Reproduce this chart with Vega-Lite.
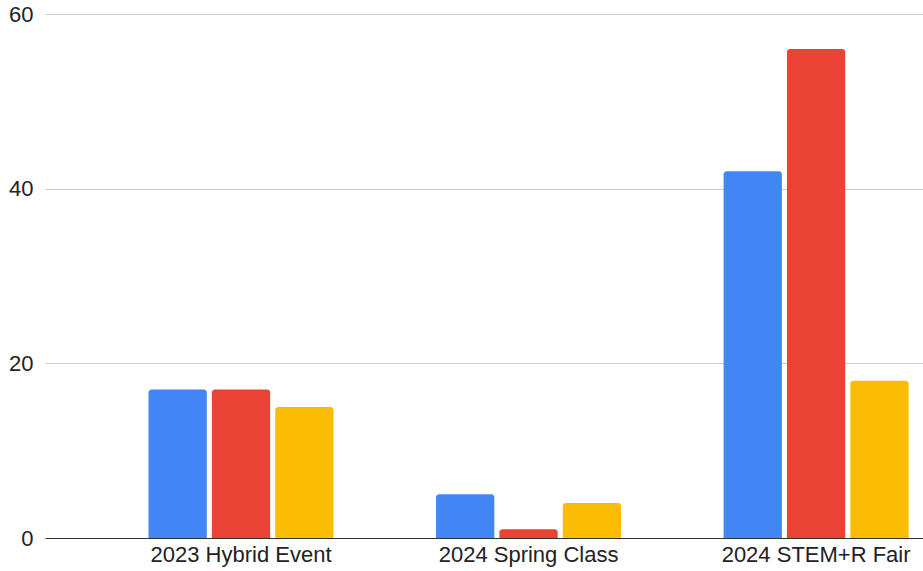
{
  "$schema": "https://vega.github.io/schema/vega-lite/v6.json",
  "width": 878,
  "height": 524,
  "autosize": {"type": "none"},
  "padding": {"left": 45, "top": 14, "right": 0, "bottom": 33},
  "background": "white",
  "config": {
    "view": {"stroke": null},
    "font": "Liberation Sans"
  },
  "data": {
    "values": [
      {"event": "2023 Hybrid Event", "series": "Series 1", "value": 17},
      {"event": "2023 Hybrid Event", "series": "Series 2", "value": 17},
      {"event": "2023 Hybrid Event", "series": "Series 3", "value": 15},
      {"event": "2024 Spring Class", "series": "Series 1", "value": 5},
      {"event": "2024 Spring Class", "series": "Series 2", "value": 1},
      {"event": "2024 Spring Class", "series": "Series 3", "value": 4},
      {"event": "2024 STEM+R Fair", "series": "Series 1", "value": 42},
      {"event": "2024 STEM+R Fair", "series": "Series 2", "value": 56},
      {"event": "2024 STEM+R Fair", "series": "Series 3", "value": 18}
    ]
  },
  "mark": {"type": "bar", "cornerRadiusTopLeft": 3, "cornerRadiusTopRight": 3},
  "encoding": {
    "x": {
      "field": "event",
      "type": "nominal",
      "sort": null,
      "scale": {"paddingInner": 0.3565, "paddingOuter": 0.205, "align": 0.878},
      "axis": {
        "title": null,
        "labelAngle": 0,
        "ticks": false,
        "domain": true,
        "domainColor": "#333333",
        "domainWidth": 1,
        "labelFontSize": 22,
        "labelLimit": 0,
        "labelOverlap": false,
        "labelColor": "#222222",
        "labelPadding": 6
      }
    },
    "xOffset": {
      "field": "series",
      "type": "nominal",
      "scale": {"paddingInner": 0.08, "paddingOuter": 0}
    },
    "y": {
      "field": "value",
      "type": "quantitative",
      "stack": null,
      "scale": {"domain": [0, 60], "nice": false},
      "axis": {
        "title": null,
        "values": [0, 20, 40, 60],
        "domain": false,
        "ticks": false,
        "grid": true,
        "gridColor": "#cccccc",
        "gridWidth": 1,
        "labelFontSize": 22,
        "labelColor": "#222222",
        "labelPadding": 12
      }
    },
    "color": {
      "field": "series",
      "type": "nominal",
      "scale": {"domain": ["Series 1", "Series 2", "Series 3"], "range": ["#4285F4", "#EA4335", "#FBBC04"]},
      "legend": null
    }
  }
}
